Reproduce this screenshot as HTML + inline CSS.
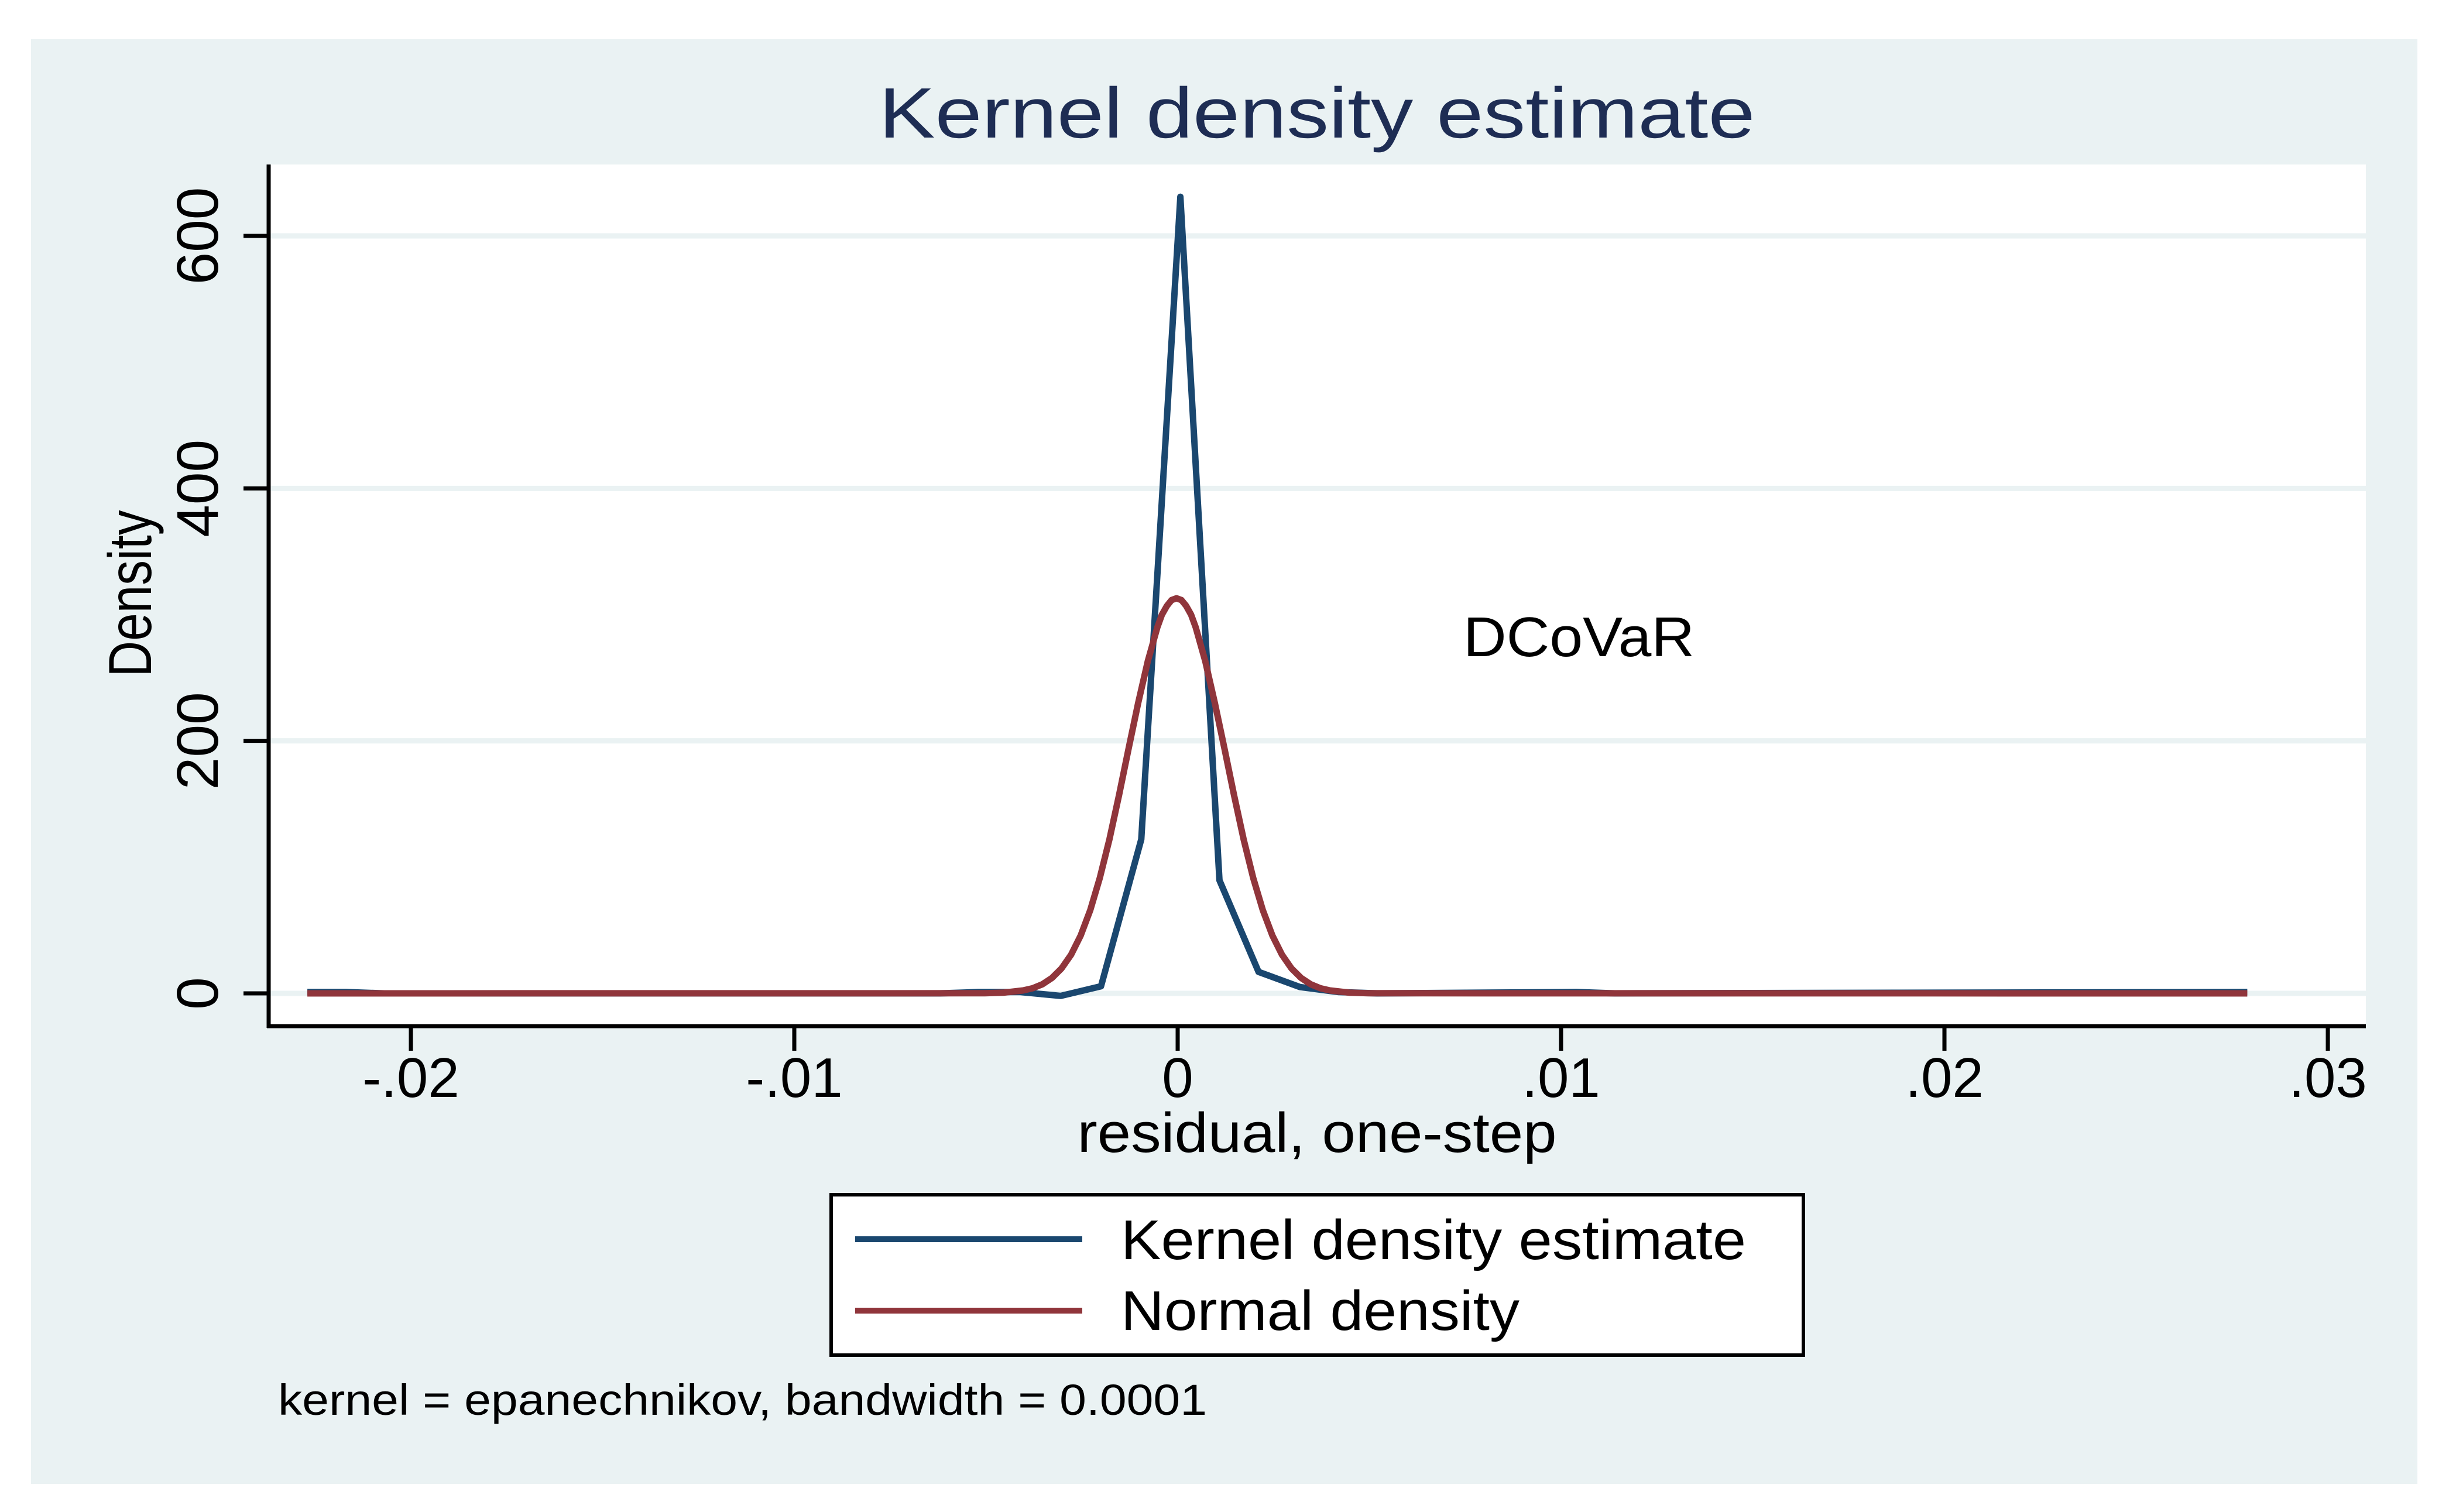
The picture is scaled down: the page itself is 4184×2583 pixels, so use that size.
<!DOCTYPE html>
<html><head><meta charset="utf-8"><style>
html,body{margin:0;padding:0;background:#fff;}
svg{display:block;}
text{font-family:"Liberation Sans",sans-serif;fill:#000;}
</style></head><body>
<svg id="chart" width="4184" height="2583" viewBox="0 0 4184 2583" xmlns="http://www.w3.org/2000/svg">
<rect x="0" y="0" width="4184" height="2583" fill="#ffffff"/>
<rect x="53" y="67" width="4077" height="2468" fill="#eaf2f3"/>
<rect x="459" y="281" width="3583" height="1472" fill="#ffffff"/>
<g id="grid"></g>
<g id="series"></g>
<line x1="459" y1="281" x2="459" y2="1756" stroke="#000" stroke-width="7"/>
<line x1="456" y1="1753" x2="4042" y2="1753" stroke="#000" stroke-width="7"/>
<g id="ticks"></g>
<text x="2250" y="235" font-size="122" text-anchor="middle" textLength="1497" lengthAdjust="spacingAndGlyphs" style="fill:#1e2d54">Kernel density estimate</text>
<text transform="translate(258,1014) rotate(-90)" font-size="104" text-anchor="middle" textLength="285" lengthAdjust="spacingAndGlyphs">Density</text>
<text x="2250" y="1968" font-size="96" text-anchor="middle" textLength="819" lengthAdjust="spacingAndGlyphs">residual, one-step</text>
<text x="2500" y="1121" font-size="96" textLength="395" lengthAdjust="spacingAndGlyphs">DCoVaR</text>
<g>
<rect x="1420" y="2041" width="1661" height="274" fill="#fff" stroke="#000" stroke-width="6"/>
<line x1="1461" y1="2117" x2="1849" y2="2117" stroke="#1a476f" stroke-width="10"/>
<text x="1915" y="2151" font-size="96" textLength="1068" lengthAdjust="spacingAndGlyphs">Kernel density estimate</text>
<line x1="1461" y1="2239" x2="1849" y2="2239" stroke="#90353b" stroke-width="10"/>
<text x="1915" y="2272" font-size="96" textLength="681" lengthAdjust="spacingAndGlyphs">Normal density</text>
</g>
<text x="475" y="2417" font-size="74" textLength="1587" lengthAdjust="spacingAndGlyphs">kernel = epanechnikov, bandwidth = 0.0001</text>
</svg>
<script>
const xTicks = [-0.02, -0.01, 0, 0.01, 0.02, 0.03];
const xTickLabels = ["-.02", "-.01", "0", ".01", ".02", ".03"];
const yTicks = [0, 200, 400, 600];
const yTickLabels = ["0", "200", "400", "600"];
const kernelX = [-0.0227, -0.0217, -0.0207, -0.0062, -0.0052, -0.0041, -0.00305, -0.0020, -0.00095, 0.00007, 0.00109, 0.00211, 0.00319, 0.0042, 0.0052, 0.0104, 0.0114, 0.0279];
const kernelY = [1, 1, 0, 0, 1, 1, -2, 5.6, 122, 631, 89.6, 17, 5, 1, 0, 1, 0, 1];
const normalX = [-0.0227, -0.00503, -0.00453, -0.00403, -0.00378, -0.00353, -0.00328, -0.00303, -0.00278, -0.00253, -0.00228, -0.00203, -0.00178, -0.00153, -0.00128, -0.00103, -0.00078, -0.00053, -0.00041, -0.00028, -0.00016, -0.00003, 0.0001, 0.00022, 0.00035, 0.00047, 0.00072, 0.00097, 0.00122, 0.00147, 0.00172, 0.00197, 0.00222, 0.00247, 0.00272, 0.00297, 0.00322, 0.00347, 0.00372, 0.00397, 0.00447, 0.00497, 0.0279];
const normalY = [0, 0.1, 0.6, 2.3, 4.1, 7.2, 12.2, 19.7, 30.6, 45.8, 66, 91.5, 122, 157, 194, 230, 263, 290, 300, 307, 311.5, 313, 311.5, 307, 300, 290, 263, 230, 194, 157, 122, 91.5, 66, 45.8, 30.6, 19.7, 12.2, 7.2, 4.1, 2.3, 0.6, 0.1, 0];

const NS = "http://www.w3.org/2000/svg";
function xs(v){ return 2012 + (v - 0) * 65500; }
function ys(v){ return 1697 - v * (1294 / 600); }

const grid = document.getElementById('grid');
const ticks = document.getElementById('ticks');
yTicks.forEach((t, i) => {
  const g = document.createElementNS(NS, 'line');
  g.setAttribute('x1', 462); g.setAttribute('x2', 4042);
  g.setAttribute('y1', ys(t)); g.setAttribute('y2', ys(t));
  g.setAttribute('stroke', '#eaf2f3'); g.setAttribute('stroke-width', 9);
  
  
  grid.appendChild(g);
  const tk = document.createElementNS(NS, 'line');
  tk.setAttribute('x1', 416); tk.setAttribute('x2', 459);
  tk.setAttribute('y1', ys(t)); tk.setAttribute('y2', ys(t));
  tk.setAttribute('stroke', '#000'); tk.setAttribute('stroke-width', 7);
  
  
  ticks.appendChild(tk);
  const lb = document.createElementNS(NS, 'text');
  lb.setAttribute('transform', 'translate(372,' + ys(t) + ') rotate(-90)');
  lb.setAttribute('font-size', '100');
  lb.setAttribute('text-anchor', 'middle');
  lb.textContent = yTickLabels[i];
  
  
  ticks.appendChild(lb);
});
xTicks.forEach((t, i) => {
  const tk = document.createElementNS(NS, 'line');
  tk.setAttribute('x1', xs(t)); tk.setAttribute('x2', xs(t));
  tk.setAttribute('y1', 1753); tk.setAttribute('y2', 1795);
  tk.setAttribute('stroke', '#000'); tk.setAttribute('stroke-width', 7);
  
  
  ticks.appendChild(tk);
  const lb = document.createElementNS(NS, 'text');
  lb.setAttribute('x', xs(t)); lb.setAttribute('y', 1874);
  lb.setAttribute('font-size', '96');
  lb.setAttribute('text-anchor', 'middle');
  lb.textContent = xTickLabels[i];
  
  
  ticks.appendChild(lb);
});

const series = document.getElementById('series');
function drawLine(X, Y, color, name){
  const p = document.createElementNS(NS, 'polyline');
  p.setAttribute('points', X.map((x, i) => xs(x).toFixed(1) + ',' + ys(Y[i]).toFixed(1)).join(' '));
  p.setAttribute('fill', 'none');
  p.setAttribute('stroke', color);
  p.setAttribute('stroke-width', 11);
  p.setAttribute('stroke-linejoin', 'round');
  
  
  series.appendChild(p);
}
drawLine(kernelX, kernelY, '#1a476f', 'kernel-density-line');
drawLine(normalX, normalY, '#90353b', 'normal-density-line');
</script>
</body></html>
